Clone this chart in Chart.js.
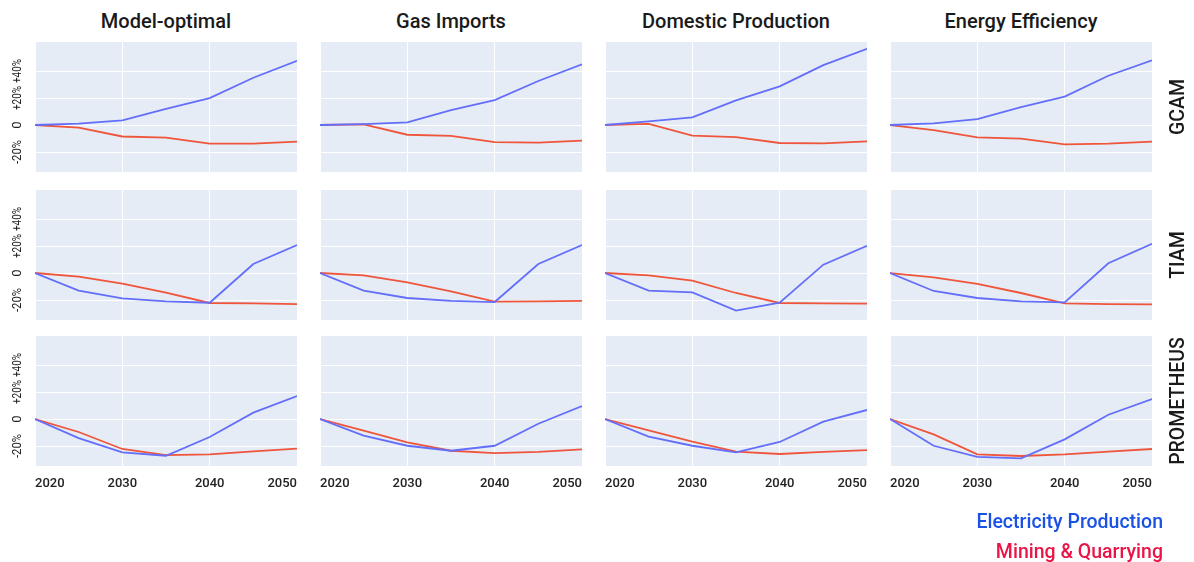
<!DOCTYPE html>
<html>
<head>
<meta charset="utf-8">
<script src="https://cdn.jsdelivr.net/npm/chart.js@4.4.0/dist/chart.umd.min.js"></script>
<style>
  body { margin: 0; background: #fff; font-family: Roboto, 'Noto Sans', sans-serif; }
  #wrap { position: relative; width: 1194px; height: 562px; overflow: hidden; }
  #wrap canvas { position: absolute; }
  .colTitle { position: absolute; top: 9px; width: 262px; text-align: center; font-size: 20px; font-weight: 500; color: #1a1a1a; }
  .rowTitle { position: absolute; left: 1177px; font-size: 19.5px; font-weight: 500; color: #1a1a1a; white-space: nowrap;
    transform: translate(-50%, -50%) rotate(-90deg); }
  .legendItem { position: absolute; right: 31px; font-size: 19.5px; font-weight: 500; white-space: nowrap; line-height: 24px; }
</style>
</head>
<body>
<div id="wrap"></div>
<script>
const YEARS = [2020, 2025, 2030, 2035, 2040, 2045, 2050];
const SCENARIOS = ['Model-optimal', 'Gas Imports', 'Domestic Production', 'Energy Efficiency'];
const MODELS = ['GCAM', 'TIAM', 'PROMETHEUS'];
const Y_TICKS = [-20, 0, 20, 40];
const Y_TICK_LABELS = ['-20%', '0', '+20%', '+40%'];
const SERIES_NAMES = ['Electricity Production', 'Mining & Quarrying'];

// % change vs 2020, one row per scenario (same order as SCENARIOS)
const gcamElec = [
  [0, 1, 3.5, 12, 20, 35, 47.5],
  [0, 0.7, 2, 11, 18.5, 32.6, 45],
  [0, 2.7, 5.7, 18.3, 28.6, 44.4, 56.5],
  [0, 1.2, 4.4, 13.3, 21, 36.5, 47.9]
];
const gcamMining = [
  [0, -2, -8.5, -9.4, -13.8, -13.8, -12.3],
  [0, 0.5, -7.2, -8.1, -12.6, -13.1, -11.6],
  [0, 0.8, -7.9, -8.9, -13.3, -13.6, -12.1],
  [0, -3.7, -9.1, -10.1, -14.3, -13.8, -12.3]
];
const tiamElec = [
  [0, -13.1, -18.8, -21, -22, 6.7, 20.7],
  [0, -13.1, -18.5, -20.7, -21.5, 6.7, 20.7],
  [0, -13.1, -14.3, -27.9, -22, 6.2, 20.2],
  [0, -13.3, -18.5, -21, -21.7, 7.2, 21.7]
];
const tiamMining = [
  [0, -2.7, -7.9, -14.6, -22.2, -22.5, -23],
  [0, -1.7, -6.9, -13.6, -21.2, -21, -20.7],
  [0, -1.7, -5.7, -14.8, -22.2, -22.5, -22.7],
  [0, -3.2, -8.1, -14.8, -22.5, -23, -23.2]
];
const prometheusElec = [
  [0, -14.1, -24.7, -27.2, -13.3, 4.7, 17],
  [0, -12.3, -19.8, -23.5, -19.8, -3.5, 9.6],
  [0, -13.1, -19.8, -24.7, -17, -2, 6.7],
  [0, -19.8, -28.1, -29.1, -15.1, 3.2, 14.8]
];
const prometheusMining = [
  [0, -9.6, -22.2, -26.7, -26.2, -24, -22],
  [0, -8.6, -17.3, -23.5, -25.2, -24.4, -22.5],
  [0, -8.4, -16.8, -24.2, -25.9, -24.4, -23],
  [0, -11.4, -26.2, -27.4, -26.2, -24.2, -22.2]
];

const ELEC_DATA = [gcamElec, tiamElec, prometheusElec];
const MINING_DATA = [gcamMining, tiamMining, prometheusMining];

const LINE_COLORS = ['#636efa', '#ef553b'];
const LEGEND_COLORS = ['#1a52e6', '#ea1446'];

const COL_LEFT = [35, 320, 605, 890];
const ROW_TOP = [42, 190, 336];
const PLOT_W = 262;
const PLOT_H = 130;
const AXIS_W = 35;
const AXIS_H = 30;
const PAD_R = 20;

const wrap = document.getElementById('wrap');

const bgPlugin = {
  id: 'plotBg',
  beforeDraw(chart) {
    const { ctx, chartArea: a } = chart;
    ctx.save();
    ctx.fillStyle = '#e5ecf6';
    ctx.fillRect(a.left, a.top, a.right - a.left, a.bottom - a.top);
    ctx.restore();
  }
};

// rotated y tick labels, like the original
const yLabelPlugin = {
  id: 'yLabels',
  afterDraw(chart) {
    if (!chart.options.plugins.yLabels.show) return;
    const { ctx } = chart;
    const y = chart.scales.y;
    ctx.save();
    ctx.fillStyle = '#222222';
    ctx.font = '13px Roboto, sans-serif';
    ctx.textAlign = 'center';
    ctx.textBaseline = 'middle';
    Y_TICKS.forEach((v, i) => {
      ctx.save();
      ctx.translate(18, y.getPixelForValue(v));
      ctx.rotate(-Math.PI / 2);
      ctx.fillText(Y_TICK_LABELS[i], 0, 0, 24);
      ctx.restore();
    });
    ctx.restore();
  }
};

function makePanel(r, c) {
  const canvas = document.createElement('canvas');
  canvas.width = AXIS_W + PLOT_W + PAD_R;
  canvas.height = PLOT_H + AXIS_H;
  canvas.style.left = (COL_LEFT[c] - AXIS_W) + 'px';
  canvas.style.top = ROW_TOP[r] + 'px';
  wrap.appendChild(canvas);

  const series = [ELEC_DATA[r][c], MINING_DATA[r][c]];
  new Chart(canvas, {
    type: 'line',
    data: {
      datasets: series.map((vals, i) => ({
        label: SERIES_NAMES[i],
        data: YEARS.map((yr, k) => ({ x: yr, y: vals[k] })),
        borderColor: LINE_COLORS[i],
        borderWidth: 1.8,
        pointRadius: 0,
        tension: 0,
        fill: false
      }))
    },
    options: {
      responsive: false,
      animation: false,
      devicePixelRatio: 1,
      layout: { padding: { left: 0, right: PAD_R, top: 0, bottom: 0 } },
      plugins: {
        legend: { display: false },
        tooltip: { enabled: false },
        yLabels: { show: c === 0 }
      },
      scales: {
        x: {
          type: 'linear',
          min: 2020,
          max: 2050,
          border: { display: false },
          grid: { color: '#ffffff', lineWidth: 1, drawTicks: false },
          ticks: {
            display: r === 2,
            stepSize: 10,
            padding: 10,
            align: 'inner',
            color: '#222222',
            font: { family: 'Roboto', size: 13, weight: '500' },
            callback: v => String(v)
          },
          afterFit: s => { s.height = AXIS_H; s.paddingLeft = 0; s.paddingRight = 0; }
        },
        y: {
          min: -34.8,
          max: 61.5,
          border: { display: false },
          grid: { color: '#ffffff', lineWidth: 1, drawTicks: false },
          ticks: { display: false },
          afterBuildTicks: s => { s.ticks = Y_TICKS.map(v => ({ value: v })); },
          afterFit: s => { s.width = AXIS_W; }
        }
      }
    },
    plugins: [bgPlugin, yLabelPlugin]
  });
}

MODELS.forEach((m, r) => SCENARIOS.forEach((s, c) => makePanel(r, c)));

SCENARIOS.forEach((s, c) => {
  const d = document.createElement('div');
  d.className = 'colTitle';
  d.style.left = COL_LEFT[c] + 'px';
  d.textContent = s;
  wrap.appendChild(d);
});

MODELS.forEach((m, r) => {
  const d = document.createElement('div');
  d.className = 'rowTitle';
  d.style.top = (ROW_TOP[r] + PLOT_H / 2) + 'px';
  d.textContent = m;
  wrap.appendChild(d);
});

SERIES_NAMES.forEach((n, i) => {
  const d = document.createElement('div');
  d.className = 'legendItem';
  d.style.top = (510 + i * 30) + 'px';
  d.style.color = LEGEND_COLORS[i];
  d.textContent = n;
  wrap.appendChild(d);
});
</script>
</body>
</html>
